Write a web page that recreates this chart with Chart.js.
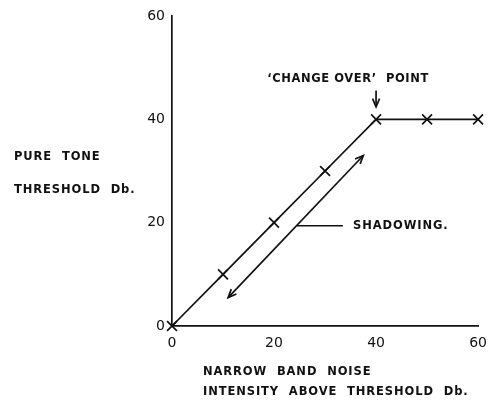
<!DOCTYPE html>
<html lang="en">
<head>
  <meta charset="UTF-8">
  <title>Shadowing</title>
  <script src="https://cdn.jsdelivr.net/npm/chart.js"></script>
  <style>
    body { margin: 0; background: #fff; }
    .wrap { width: 496px; height: 404px; }
  </style>
</head>
<body>
  <div class="wrap"><canvas id="grafico" width="496" height="404"></canvas></div>
  <script>
    // valores
    const ruido = [0, 10, 20, 30, 40, 50, 60];
    const tom = [0, 10, 20, 30, 40, 40, 40];
    const sombraX = [11, 37.5];
    const sombraY = [5.5, 33];
    const guiaX = [24.5, 33.5];
    const guiaY = [19.4, 19.4];
    const trocaX = [40, 40];
    const trocaY = [45.6, 42.4];
    const ticks = [0, 20, 40, 60];

    const fonte = "'DejaVu Sans', sans-serif";
    const pares = (xs, ys) => xs.map((x, i) => ({ x, y: ys[i] }));

    // pontas de seta nas linhas marcadas
    const setas = {
      id: 'setas',
      afterDatasetsDraw(chart) {
        const ctx = chart.ctx;
        chart.data.datasets.forEach((ds, i) => {
          if (!ds.setas) return;
          const pts = chart.getDatasetMeta(i).data;
          const a = pts[0], b = pts[pts.length - 1];
          const ponta = (p, q) => {
            const ang = Math.atan2(p.y - q.y, p.x - q.x);
            ctx.save();
            ctx.strokeStyle = '#111';
            ctx.lineWidth = 1.7;
            ctx.beginPath();
            ctx.moveTo(p.x - 9 * Math.cos(ang - 0.4), p.y - 9 * Math.sin(ang - 0.4));
            ctx.lineTo(p.x, p.y);
            ctx.lineTo(p.x - 9 * Math.cos(ang + 0.4), p.y - 9 * Math.sin(ang + 0.4));
            ctx.stroke();
            ctx.restore();
          };
          if (ds.setas.includes('fim')) ponta(b, a);
          if (ds.setas.includes('inicio')) ponta(a, b);
        });
      }
    };

    // textos do gráfico
    const textos = {
      id: 'textos',
      afterDraw(chart) {
        const ctx = chart.ctx;
        const sx = chart.scales.x, sy = chart.scales.y;
        ctx.save();
        ctx.fillStyle = '#111';
        ctx.font = 'bold 11.5px ' + fonte;
        ctx.letterSpacing = '0.9px';
        ctx.textBaseline = 'middle';
        ctx.textAlign = 'left';
        ctx.fillText('PURE  TONE', 14, 157);
        ctx.fillText('THRESHOLD  Db.', 14, 190);
        ctx.fillText('NARROW  BAND  NOISE', 203, 372);
        ctx.fillText('INTENSITY  ABOVE  THRESHOLD  Db.', 203, 392);
        ctx.fillText('SHADOWING.', sx.getPixelForValue(35.5), sy.getPixelForValue(19.4));
        ctx.textAlign = 'center';
        ctx.letterSpacing = '0.6px';
        ctx.fillText("‘CHANGE OVER’  POINT", sx.getPixelForValue(34.5), sy.getPixelForValue(47.8));
        ctx.restore();
      }
    };

    new Chart(grafico, {
      type: 'scatter',
      data: {
        datasets: [
          {
            data: pares(ruido, tom),
            showLine: true,
            borderColor: '#111',
            borderWidth: 1.7,
            pointStyle: 'crossRot',
            pointRadius: 7,
            pointBorderColor: '#111',
            pointBorderWidth: 1.7
          },
          {
            data: pares(sombraX, sombraY),
            showLine: true,
            borderColor: '#111',
            borderWidth: 1.7,
            pointRadius: 0,
            setas: ['inicio', 'fim']
          },
          {
            data: pares(guiaX, guiaY),
            showLine: true,
            borderColor: '#111',
            borderWidth: 1.7,
            pointRadius: 0
          },
          {
            data: pares(trocaX, trocaY),
            showLine: true,
            borderColor: '#111',
            borderWidth: 1.7,
            pointRadius: 0,
            setas: ['fim']
          }
        ]
      },
      options: {
        responsive: false,
        animation: false,
        clip: false,
        layout: { padding: { top: 16, right: 14, left: 0, bottom: 0 } },
        plugins: { legend: { display: false }, tooltip: { enabled: false } },
        scales: {
          x: {
            min: 0, max: 60,
            afterBuildTicks: s => { s.ticks = ticks.map(v => ({ value: v })); },
            afterFit: s => { s.height = 78; },
            grid: { display: false, drawTicks: false },
            border: { color: '#111', width: 1.7 },
            ticks: { color: '#111', padding: 9, font: { family: fonte, size: 14 }, maxRotation: 0 }
          },
          y: {
            min: 0, max: 60,
            afterBuildTicks: s => { s.ticks = ticks.map(v => ({ value: v })); },
            afterFit: s => { s.width = 172; },
            grid: { display: false, drawTicks: false },
            border: { color: '#111', width: 1.7 },
            ticks: { color: '#111', padding: 7, font: { family: fonte, size: 14 } }
          }
        }
      },
      plugins: [setas, textos]
    });
  </script>
</body>
</html>
